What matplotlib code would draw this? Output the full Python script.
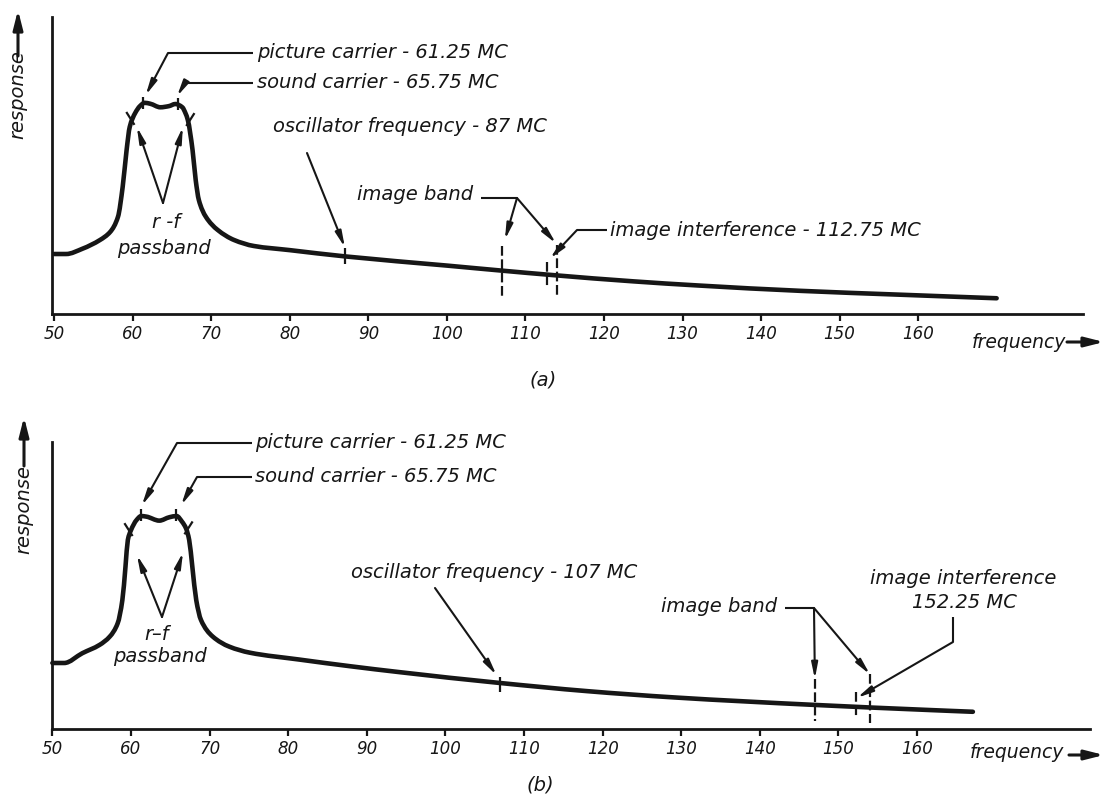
import numpy as np
import matplotlib
matplotlib.use("Agg")
import matplotlib.pyplot as plt
from matplotlib.lines import Line2D
from matplotlib.patches import FancyArrowPatch, PathPatch
from matplotlib.path import Path
from matplotlib.transforms import IdentityTransform

W, H, DPI = 1104, 795, 100
INK = "#161616"

# ---- data -------------------------------------------------------------
freq_ticks = [50, 60, 70, 80, 90, 100, 110, 120, 130, 140, 150, 160]

# (a) receiver tuned to channel 3 with an 87 MC local oscillator
freq_a = [50, 51.5, 53.6, 55.8, 57.1, 58.1, 58.7, 59.2, 59.6, 60.3, 60.9,
          61.5, 62.2, 63.5, 64.6, 65.4, 66.3, 66.7, 67.0, 67.6, 68.0, 68.4,
          69.3, 70.8, 72.9, 75.4, 80.0, 87.0, 100.0, 107.0, 113.5, 123.7,
          132.0, 145.0, 157.7, 170.0]
resp_a = [20.2, 20.2, 22.0, 24.9, 27.6, 32.7, 42.8, 55.2, 63.0, 67.7, 70.0,
          71.1, 70.8, 69.6, 70.0, 70.7, 69.6, 67.6, 65.3, 55.2, 45.1, 38.4,
          32.7, 28.3, 24.9, 22.9, 21.5, 19.4, 16.3, 14.6, 13.1, 11.0,
          9.6, 7.8, 6.5, 5.3]
osc_a = 87.0
image_band_a = (107.0, 114.0)
image_int_a = 112.75

# (b) same receiver with a 107 MC local oscillator
freq_b = [50, 51.5, 53.8, 56.0, 57.3, 58.3, 58.9, 59.3, 59.6, 60.0, 60.7,
          61.3, 61.95, 63.6, 64.9, 65.8, 66.5, 67.0, 67.4, 67.8, 68.3, 68.9,
          70.4, 72.5, 75.1, 81.4, 87.8, 94.2, 106.7, 118.0, 129.1, 146.9,
          161.7, 167.1]
resp_b = [23.0, 23.0, 26.4, 29.3, 32.2, 36.8, 44.9, 56.6, 65.9, 69.3, 72.8,
          74.2, 74.0, 72.6, 73.8, 74.2, 72.2, 69.9, 65.9, 56.6, 44.9, 38.0,
          32.2, 28.7, 26.6, 24.2, 21.9, 19.8, 16.1, 13.2, 11.0, 8.4,
          6.6, 6.0]
osc_b = 107.0
image_band_b = (147.0, 154.0)
image_int_b = 152.25

picture_carrier = 61.25
sound_carrier = 65.75
passband = (60.0, 67.0)

# ---- styling ----------------------------------------------------------
plt.rcParams["font.family"] = ["DejaVu Sans"]
plt.rcParams["font.style"] = "italic"
plt.rcParams["lines.scale_dashes"] = False

TXT = 14.0
ARROW = dict(arrowstyle="-|>,head_length=0.85,head_width=0.17", color=INK,
             lw=1.5, shrinkA=0, shrinkB=0, mutation_scale=11)

fig = plt.figure(figsize=(W / DPI, H / DPI), dpi=DPI)
fig.patch.set_facecolor("white")


def make_axes(left, top, right, bottom, xlim):
    ax = fig.add_axes([left / W, 1 - bottom / H, (right - left) / W, (bottom - top) / H])
    ax.set_xlim(*xlim)
    ax.set_ylim(0, 100)
    ax.patch.set_alpha(0)
    for s in ("top", "right"):
        ax.spines[s].set_visible(False)
    for s in ("left", "bottom"):
        ax.spines[s].set_linewidth(2.0)
        ax.spines[s].set_color(INK)
        ax.spines[s].set_capstyle("projecting")
    ax.set_xticks(freq_ticks)
    ax.set_xticklabels([str(t) for t in freq_ticks])
    ax.set_yticks([])
    ax.tick_params(axis="x", direction="out", length=5, width=1.6, color=INK,
                   pad=3, labelsize=12, labelcolor=INK)
    return ax


def text(x, y, s, ha="left", size=TXT, **kw):
    fig.text(x / W, 1 - y / H, s, ha=ha, va="center", size=size, color=INK, **kw)


def fline(pts, lw=1.5):
    xs = [p[0] for p in pts]
    ys = [H - p[1] for p in pts]
    fig.add_artist(Line2D(xs, ys, transform=IdentityTransform(), color=INK,
                          lw=lw, solid_capstyle="butt"))


def nudge(ax, f, r, dx=0.0, dy=0.0):
    x, y = ax.transData.transform((f, r))
    return tuple(ax.transData.inverted().transform((x + dx, y + dy)))


def arrow_to(ax, start_px, tip):
    ax.annotate("", xy=tip, xycoords="data",
                xytext=(start_px[0], H - start_px[1]), textcoords="figure pixels",
                arrowprops=ARROW, annotation_clip=False)


def fig_arrow(p0, p1, lw=2.2):
    fig.add_artist(FancyArrowPatch(
        (p0[0], H - p0[1]), (p1[0], H - p1[1]), transform=IdentityTransform(),
        arrowstyle="-|>,head_length=0.95,head_width=0.24", mutation_scale=12,
        color=INK, lw=lw, shrinkA=0, shrinkB=0))


def mark(ax, freq, resp, f, up, down, dashed=False, dx=0.0):
    r0 = np.interp(f, freq, resp)
    a = nudge(ax, f, r0, dx, up)
    b = nudge(ax, f, r0, dx, -down)
    kw = dict(dashes=(7.0, 2.6)) if dashed else {}
    ax.plot([a[0], b[0]], [a[1], b[1]], color=INK, lw=1.6, clip_on=False,
            solid_capstyle="butt", **kw)


def edge_mark(ax, freq, resp, f, side):
    r0 = np.interp(f, freq, resp)
    a = nudge(ax, f, r0, -side * 1, -5)
    b = nudge(ax, f, r0, side * 6, 6)
    ax.plot([a[0], b[0]], [a[1], b[1]], color=INK, lw=1.6, clip_on=False)


def tip(ax, freq, resp, f, dx, dy):
    return nudge(ax, f, np.interp(f, freq, resp), dx, dy)


def curve(ax, freq, resp):
    # smooth stroke through the read points: monotone cubic (Fritsch-Carlson)
    # tangents, drawn as Bezier segments
    x = np.asarray(freq, float)
    y = np.asarray(resp, float)
    h = np.diff(x)
    d = np.diff(y) / h
    m = np.empty_like(y)
    m[0], m[-1] = d[0], d[-1]
    for k in range(1, len(y) - 1):
        if d[k - 1] * d[k] <= 0:
            m[k] = 0.0
        else:
            w1 = 2 * h[k] + h[k - 1]
            w2 = h[k] + 2 * h[k - 1]
            m[k] = (w1 + w2) / (w1 / d[k - 1] + w2 / d[k])
    verts = [(x[0], y[0])]
    codes = [Path.MOVETO]
    for k in range(len(h)):
        t = h[k] / 3.0
        verts += [(x[k] + t, y[k] + m[k] * t),
                  (x[k + 1] - t, y[k + 1] - m[k + 1] * t),
                  (x[k + 1], y[k + 1])]
        codes += [Path.CURVE4] * 3
    patch = PathPatch(Path(verts, codes), fill=False, edgecolor=INK, lw=3.3,
                      capstyle="round", joinstyle="round", clip_on=False, zorder=3)
    ax.add_patch(patch)


# ---- panel (a) --------------------------------------------------------
ax_a = make_axes(52, 17, 1083, 314, (49.7, 181.0))
curve(ax_a, freq_a, resp_a)

mark(ax_a, freq_a, resp_a, picture_carrier, 7, 5)
mark(ax_a, freq_a, resp_a, sound_carrier, 7, 5)
edge_mark(ax_a, freq_a, resp_a, passband[0], -1)
edge_mark(ax_a, freq_a, resp_a, passband[1], +1)
mark(ax_a, freq_a, resp_a, osc_a, 8, 8)
mark(ax_a, freq_a, resp_a, image_band_a[0], 25, 28, dashed=True)
mark(ax_a, freq_a, resp_a, image_band_a[1], 30, 23, dashed=True)
mark(ax_a, freq_a, resp_a, image_int_a, 13, 12, dashed=True)

text(257, 53, "picture carrier - 61.25 MC")
fline([(253, 53), (168, 53)])
arrow_to(ax_a, (168, 53), tip(ax_a, freq_a, resp_a, picture_carrier, 3, 9))

text(257, 83, "sound carrier - 65.75 MC")
fline([(253, 83), (185, 83)])
arrow_to(ax_a, (185, 83), tip(ax_a, freq_a, resp_a, sound_carrier, -1, 9))

text(166, 222, "r -f", ha="center")
text(164, 248, "passband", ha="center")
arrow_to(ax_a, (163, 203), tip(ax_a, freq_a, resp_a, passband[0], 4, -8))
arrow_to(ax_a, (163, 203), tip(ax_a, freq_a, resp_a, passband[1], -5, -7))

text(273, 127, "oscillator frequency - 87 MC")
arrow_to(ax_a, (307, 153), tip(ax_a, freq_a, resp_a, osc_a, 0, 9))

text(357, 195, "image band")
fline([(481, 198), (517, 198)])
arrow_to(ax_a, (517, 198), tip(ax_a, freq_a, resp_a, image_band_a[0], 3, 31))
arrow_to(ax_a, (517, 198), tip(ax_a, freq_a, resp_a, image_band_a[1], -1, 32))

text(610, 230, "image interference - 112.75 MC")
fline([(607, 230), (577, 230)])
arrow_to(ax_a, (577, 230), tip(ax_a, freq_a, resp_a, image_int_a, 3, 16))

text(543, 380, "(a)", ha="center")
text(972, 342, "frequency", size=13.5)
fig_arrow((1067, 342), (1104, 342))
text(18, 95, "response", ha="center", rotation=90)
fig_arrow((18, 56), (18, 10))

# ---- panel (b) --------------------------------------------------------
ax_b = make_axes(52, 442, 1090, 729, (49.95, 182.0))
curve(ax_b, freq_b, resp_b)

mark(ax_b, freq_b, resp_b, picture_carrier, 7, 5)
mark(ax_b, freq_b, resp_b, sound_carrier, 7, 5)
edge_mark(ax_b, freq_b, resp_b, passband[0], -1)
edge_mark(ax_b, freq_b, resp_b, passband[1], +1)
mark(ax_b, freq_b, resp_b, osc_b, 6, 9)
mark(ax_b, freq_b, resp_b, image_band_b[0], 26, 16, dashed=True)
mark(ax_b, freq_b, resp_b, image_band_b[1], 33, 16, dashed=True)
mark(ax_b, freq_b, resp_b, image_int_b, 15, 11, dashed=True)

text(255, 443, "picture carrier - 61.25 MC")
fline([(252, 443), (177, 443)])
arrow_to(ax_b, (177, 443), tip(ax_b, freq_b, resp_b, picture_carrier, 1, 11))

text(255, 477, "sound carrier - 65.75 MC")
fline([(252, 477), (197, 477)])
arrow_to(ax_b, (197, 477), tip(ax_b, freq_b, resp_b, sound_carrier, 5, 11))

text(157, 635, "r\u2013f", ha="center")
text(160, 656, "passband", ha="center")
arrow_to(ax_b, (162, 617), tip(ax_b, freq_b, resp_b, passband[0], 6, -25))
arrow_to(ax_b, (162, 617), tip(ax_b, freq_b, resp_b, passband[1], -3, -24))

text(351, 572, "oscillator frequency - 107 MC")
arrow_to(ax_b, (435, 588), tip(ax_b, freq_b, resp_b, osc_b, -4, 8))

text(661, 607, "image band")
fline([(785, 608), (814, 608)])
arrow_to(ax_b, (814, 608), tip(ax_b, freq_b, resp_b, image_band_b[0], 0, 26))
arrow_to(ax_b, (814, 608), tip(ax_b, freq_b, resp_b, image_band_b[1], 0, 33))

text(963, 578, "image interference", ha="center")
text(964, 602, "152.25 MC", ha="center")
fline([(953, 617), (953, 642)])
arrow_to(ax_b, (953, 642), tip(ax_b, freq_b, resp_b, image_int_b, 1, 9))

text(540, 785, "(b)", ha="center")
text(970, 752, "frequency", size=13.5)
fig_arrow((1069, 755), (1104, 755))
text(24, 510, "response", ha="center", rotation=90)
fig_arrow((24, 466), (24, 417))

fig.savefig("out.png", dpi=DPI, facecolor="white")
